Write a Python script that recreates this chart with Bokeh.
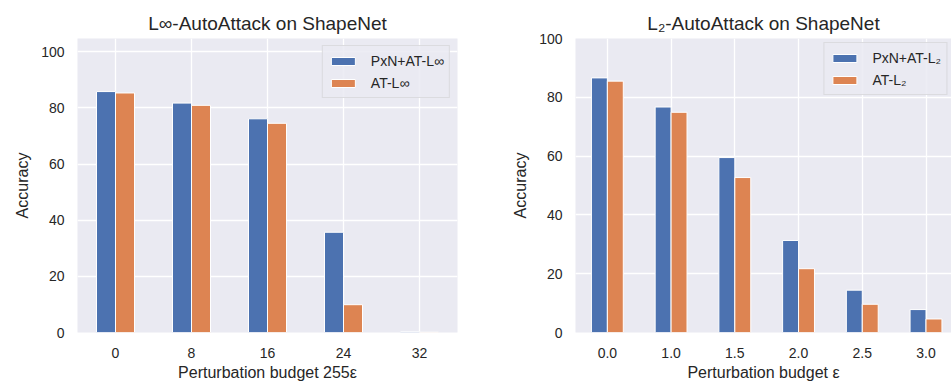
import numpy as np
from bokeh.plotting import figure
from bokeh.layouts import row
from bokeh.models import FixedTicker, Range1d
from bokeh.embed import file_html
from bokeh.resources import INLINE

# ---- data ----
linf_budgets = ["0", "8", "16", "24", "32"]
linf_pxn = [85.8, 81.7, 76.1, 35.7, 0.3]
linf_at = [85.3, 80.9, 74.5, 9.9, 0.1]

l2_budgets = ["0.0", "1.0", "1.5", "2.0", "2.5", "3.0"]
l2_pxn = [86.6, 76.7, 59.5, 31.3, 14.4, 7.8]
l2_at = [85.5, 74.9, 52.7, 21.7, 9.6, 4.6]

y_ticks = [0, 20, 40, 60, 80, 100]

BLUE = "#4C72B0"
ORANGE = "#DD8452"
BG = "#EAEAF2"
TXT = "#262626"
FONT = "Liberation Sans"


def panel(title, cats, s1, s2, lab1, lab2, xlabel, ymax, xend, width,
          mbl, mbr, legend_margin):
    n = len(cats)
    xs = np.arange(n)
    p = figure(width=width, height=383, output_backend="svg",
               toolbar_location=None,
               x_range=Range1d(-0.5, xend), y_range=Range1d(0, ymax),
               min_border_left=mbl, min_border_right=mbr,
               min_border_top=38, min_border_bottom=49)
    p.background_fill_color = BG
    p.border_fill_color = "white"
    p.outline_line_color = None

    p.vbar(x=xs - 0.125, top=s1, width=0.25, fill_color=BLUE,
           line_color="white", line_width=1, legend_label=lab1)
    p.vbar(x=xs + 0.125, top=s2, width=0.25, fill_color=ORANGE,
           line_color="white", line_width=1, legend_label=lab2)

    p.title.text = title
    p.title.align = "center"
    p.title.text_font = FONT
    p.title.text_font_size = "19px"
    p.title.text_font_style = "normal"
    p.title.text_color = TXT
    p.title.standoff = 9

    p.xaxis.ticker = FixedTicker(ticks=list(range(n)))
    p.xaxis.major_label_overrides = {i: c for i, c in enumerate(cats)}
    p.yaxis.ticker = FixedTicker(ticks=y_ticks)

    for ax in (p.xaxis, p.yaxis):
        ax.axis_line_color = None
        ax.major_tick_line_color = None
        ax.minor_tick_line_color = None
        ax.major_tick_out = 0
        ax.major_tick_in = 0
        ax.minor_tick_out = 0
        ax.major_label_text_font = FONT
        ax.major_label_text_font_size = "14px"
        ax.major_label_text_color = TXT
        ax.axis_label_text_font = FONT
        ax.axis_label_text_font_size = "16px"
        ax.axis_label_text_font_style = "normal"
        ax.axis_label_text_color = TXT
    p.xaxis.axis_label = xlabel
    p.yaxis.axis_label = "Accuracy"
    p.xaxis.major_label_standoff = 15
    p.xaxis.axis_label_standoff = 3
    p.yaxis.major_label_standoff = 13
    p.yaxis.axis_label_standoff = 7

    p.xgrid.ticker = FixedTicker(ticks=list(range(n)))
    p.grid.grid_line_color = "white"
    p.grid.grid_line_width = 1.3
    p.grid.level = "underlay"

    lg = p.legend[0]
    lg.location = "top_right"
    lg.margin = legend_margin
    lg.background_fill_color = BG
    lg.background_fill_alpha = 0.85
    lg.border_line_color = "#CCCCCC"
    lg.border_line_width = 1
    lg.label_text_font = FONT
    lg.label_text_font_size = "14px"
    lg.label_text_color = TXT
    lg.glyph_width = 30
    lg.glyph_height = 10
    lg.label_standoff = 13
    lg.label_height = 19
    lg.spacing = 3
    lg.padding = 5
    return p


p1 = panel("L∞-AutoAttack on ShapeNet", linf_budgets, linf_pxn, linf_at,
           "PxN+AT-L∞", "AT-L∞", "Perturbation budget 255ε", 104.7, 4.5,
           475, 77, 18, 7)
p2 = panel("L₂-AutoAttack on ShapeNet", l2_budgets, l2_pxn, l2_at,
           "PxN+AT-L₂", "AT-L₂", "Perturbation budget ε", 100, 5.4,
           476, 100, 0, 4)

layout = row(p1, p2, spacing=0)
open("out.html", "w").write(file_html(layout, INLINE))
